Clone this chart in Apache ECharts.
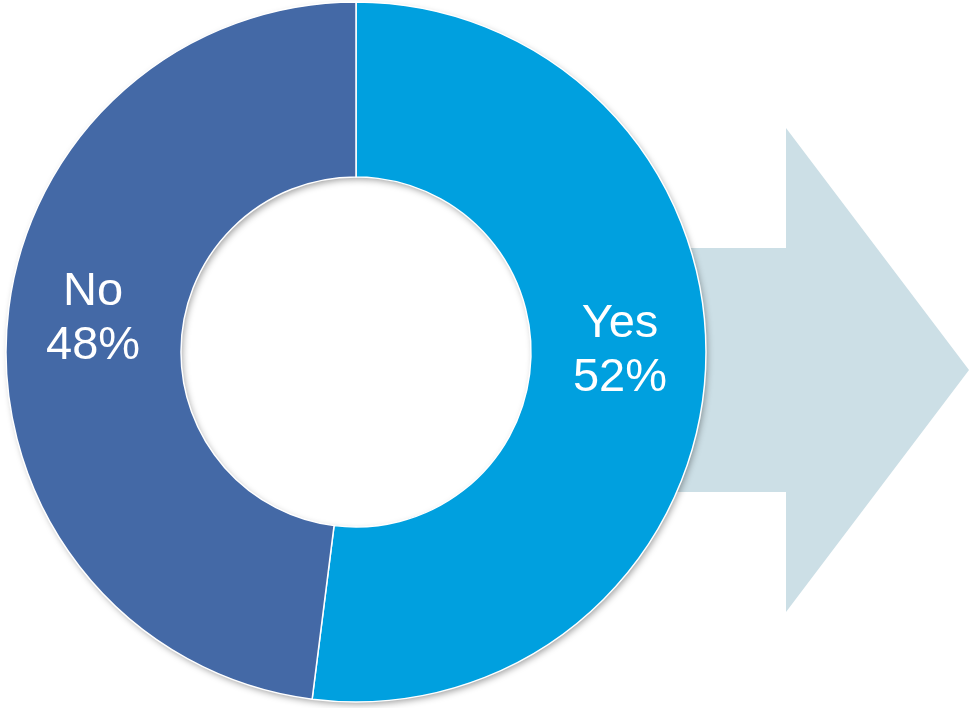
<!DOCTYPE html>
<html>
<head>
<meta charset="utf-8">
<script src="https://cdn.jsdelivr.net/npm/echarts@6/dist/echarts.min.js"></script>
<style>
html,body{margin:0;padding:0;background:#fff;}
#chart{width:969px;height:708px;}
</style>
</head>
<body>
<div id="chart"></div>
<script>
var categories = ['Yes', 'No'];
var values = [52, 48];
var colors = ['#00A0DF', '#4469A6'];
var labelOffsets = [[-1, -18], [2, -16]];

var CX = 356, CY = 352, R0 = 175, R = 350;

var chart = echarts.init(document.getElementById('chart'));
chart.setOption({
  backgroundColor: '#ffffff',
  animation: false,
  graphic: [
    {
      type: 'polygon',
      z: 0,
      silent: true,
      shape: { points: [[600, 248], [786, 248], [786, 128], [969, 370], [786, 612], [786, 492], [600, 492]] },
      style: { fill: '#CCDFE6' }
    },
    {
      type: 'ring',
      z: 1,
      silent: true,
      shape: { cx: CX, cy: CY, r: R - 1, r0: R0 + 1 },
      style: { fill: '#ffffff', shadowBlur: 7, shadowOffsetX: 2, shadowOffsetY: 3, shadowColor: 'rgba(0,0,0,0.4)' }
    }
  ],
  series: [{
    type: 'pie',
    center: [CX, CY],
    radius: [R0, R],
    startAngle: 90,
    clockwise: true,
    silent: true,
    z: 5,
    itemStyle: { borderColor: '#ffffff', borderWidth: 1.5 },
    label: {
      show: true,
      position: 'inside',
      formatter: function (p) { return p.name + '\n' + p.value + '%'; },
      color: '#ffffff',
      fontFamily: 'Liberation Sans',
      fontSize: 47,
      lineHeight: 54,
      align: 'center'
    },
    labelLine: { show: false },
    data: categories.map(function (c, i) {
      return {
        name: c,
        value: values[i],
        itemStyle: { color: colors[i] },
        label: { offset: labelOffsets[i] }
      };
    })
  }]
});
</script>
</body>
</html>
